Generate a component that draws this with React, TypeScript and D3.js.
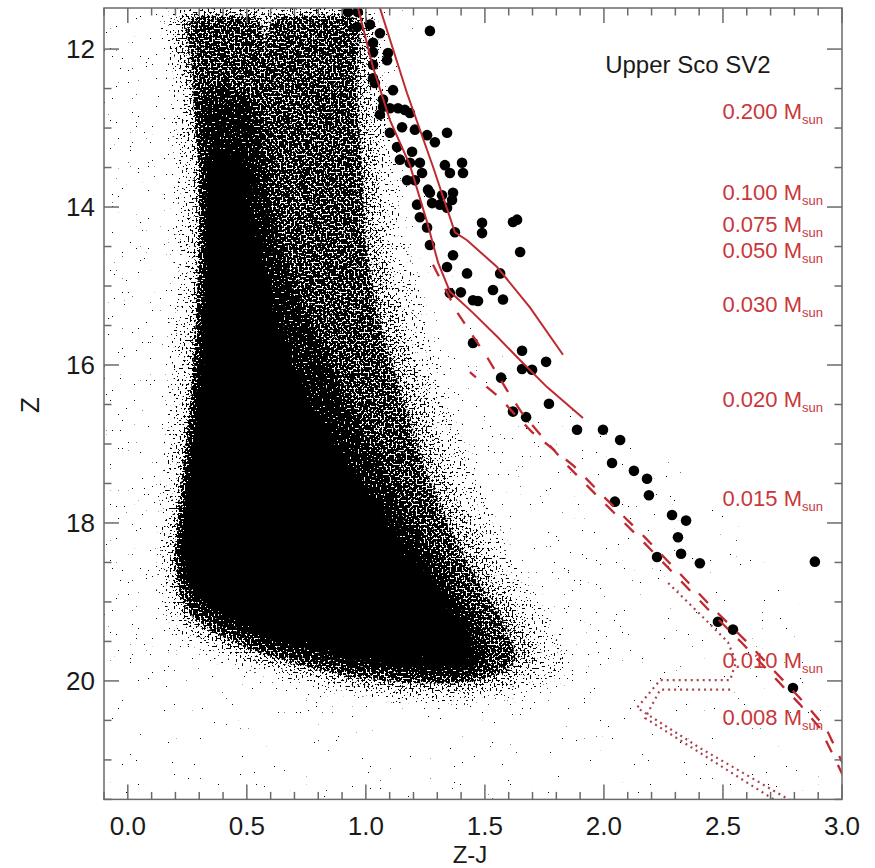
import React from "react";
import * as d3 from "d3";

// ---------- data ----------
const xMajorTicks = [0, 0.5, 1.0, 1.5, 2.0, 2.5, 3.0];
const xTickLabels = ["0.0", "0.5", "1.0", "1.5", "2.0", "2.5", "3.0"];
const yMajorTicks = [12, 14, 16, 18, 20];
const yTickLabels = ["12", "14", "16", "18", "20"];

// Upper Sco member candidates (Z-J, Z)
const memberZJ = [0.925,0.966,0.963,1.017,1.059,1.030,1.030,1.093,1.089,1.030,1.269,1.030,1.038,1.114,1.072,1.072,1.101,1.135,1.164,1.185,1.059,1.152,1.101,1.206,1.257,1.290,1.341,1.131,1.194,1.143,1.185,1.227,1.236,1.173,1.206,1.332,1.404,1.353,1.408,1.261,1.269,1.320,1.366,1.362,1.215,1.278,1.311,1.341,1.227,1.257,1.374,1.488,1.488,1.618,1.635,1.269,1.648,1.366,1.341,1.425,1.564,1.353,1.399,1.450,1.471,1.534,1.576,1.450,1.656,1.757,1.656,1.698,1.568,1.769,1.618,1.673,1.887,1.996,2.068,2.034,2.126,2.181,2.189,2.046,2.286,2.345,2.311,2.324,2.403,2.223,2.479,2.542,2.794,2.886];
const memberZ = [11.53,11.53,11.72,11.69,11.80,11.92,12.04,12.05,12.14,12.20,11.77,12.37,12.43,12.52,12.64,12.73,12.75,12.75,12.77,12.81,12.83,12.99,13.06,13.02,13.09,13.18,13.06,13.24,13.30,13.40,13.44,13.44,13.57,13.66,13.66,13.47,13.44,13.57,13.57,13.78,13.82,13.85,13.82,13.91,13.97,13.95,13.97,14.01,14.13,14.26,14.32,14.20,14.33,14.19,14.16,14.48,14.57,14.61,14.76,14.84,14.84,15.09,15.08,15.18,15.19,15.05,15.17,15.72,15.82,15.96,16.05,16.06,16.16,16.49,16.59,16.66,16.82,16.82,16.95,17.24,17.34,17.44,17.65,17.73,17.90,17.97,18.18,18.39,18.51,18.43,19.25,19.35,20.09,18.49];

// Isochrones (Z-J, Z)
const solidIsoA: [number, number][] = [[0.967,11.48],[1.030,12.23],[1.101,12.90],[1.185,13.47],[1.257,14.19],[1.303,14.70],[1.353,15.07],[1.450,15.34],[1.551,15.64],[1.648,15.94],[1.761,16.28],[1.912,16.67]];
const solidIsoB: [number, number][] = [[1.059,11.48],[1.173,12.56],[1.282,13.49],[1.374,14.32],[1.425,14.42],[1.551,14.76],[1.689,15.27],[1.828,15.87]];
const dashedIsoA: [number, number][] = [[1.282,14.73],[1.383,15.33],[1.509,15.90],[1.593,16.32],[1.656,16.61],[1.752,16.95],[1.849,17.28],[1.992,17.72],[2.143,18.17],[2.290,18.63],[2.433,19.08],[2.580,19.52],[2.727,19.99],[2.824,20.30],[2.908,20.60],[3.003,21.19]];
const dashedIsoB: [number, number][] = [[1.437,16.09],[1.509,16.28],[1.564,16.42],[1.618,16.60],[1.698,16.85],[1.874,17.28],[2.017,17.72],[2.168,18.17],[2.315,18.63],[2.458,19.08],[2.605,19.52],[2.752,19.99],[2.849,20.30],[2.933,20.60],[3.012,21.10]];
const dottedIsoA: [number, number][] = [[2.270,18.76],[2.395,19.13],[2.521,19.51],[2.555,19.76],[2.530,19.99],[2.236,19.99],[2.139,20.34],[2.404,20.85],[2.782,21.51]];
const dottedIsoB: [number, number][] = [[2.530,20.11],[2.236,20.11],[2.173,20.47],[2.718,21.51]];

// Mass labels and the Z at which they sit
const massNames = ["0.200", "0.100", "0.075", "0.050", "0.030", "0.020", "0.015", "0.010", "0.008"];
const massZ = [12.885, 13.91, 14.32, 14.64, 15.33, 16.53, 17.78, 19.84, 20.56];

// Field-star density regions (Z-J, Z), outer to inner, with relative density
const fieldLevels = [0.035, 0.09, 0.22, 0.42, 0.56, 0.76, 1.0];
const fieldContours: [number, number][][] = [
  [[-0.1,11.5],[1.15,11.5],[1.25,13.5],[1.45,15.5],[1.8,16.5],[2.3,17.3],[2.7,18.5],[2.9,20],[2.9,21.5],[-0.1,21.5]],
  [[-0.1,11.6],[1.08,11.5],[1.15,13],[1.25,14.5],[1.42,16],[1.68,17.3],[1.95,18.5],[2.1,19.5],[1.95,20.35],[1.4,20.5],[0.8,20.35],[0.3,19.95],[-0.1,19.7]],
  [[0.17,11.5],[1.04,11.5],[1.08,12.5],[1.12,13.5],[1.18,14.5],[1.26,15.5],[1.36,16.5],[1.47,17.5],[1.63,18.5],[1.78,19.3],[1.86,19.9],[1.6,20.2],[1.2,20.25],[0.8,20.05],[0.45,19.75],[0.2,19.4],[0.13,18.8],[0.15,17.5],[0.18,16],[0.2,14],[0.19,12.5]],
  [[0.22,11.5],[1.0,11.5],[1.02,12.5],[1.05,13.5],[1.08,14.5],[1.15,15.5],[1.25,16.5],[1.36,17.5],[1.52,18.5],[1.65,19.2],[1.72,19.8],[1.5,20.08],[1.1,20.1],[0.75,19.9],[0.45,19.6],[0.25,19.25],[0.19,18.75],[0.21,17.5],[0.25,16.5],[0.27,15],[0.28,13.5],[0.25,12.5]],
  [[0.27,11.45],[0.53,11.45],[0.57,12.2],[0.64,11.45],[0.94,11.45],[0.96,12.5],[0.98,13.5],[1.0,14.5],[1.06,15.5],[1.16,16.5],[1.27,17.5],[1.42,18.5],[1.58,19.3],[1.62,19.8],[1.4,20.0],[1.05,20.0],[0.7,19.8],[0.42,19.5],[0.24,19.1],[0.2,18.6],[0.23,17.5],[0.27,16.3],[0.3,15],[0.29,13.3],[0.27,12.3]],
  [[0.31,12.6],[0.5,12.6],[0.58,13.5],[0.64,14.5],[0.78,15.5],[0.93,16.5],[1.07,17.3],[1.2,18.0],[1.36,18.8],[1.5,19.5],[1.5,19.85],[1.2,19.9],[0.85,19.75],[0.55,19.5],[0.33,19.15],[0.22,18.65],[0.24,17.5],[0.28,16.3],[0.31,15],[0.32,13.5]],
  [[0.35,13.4],[0.47,13.4],[0.52,14.3],[0.6,15.3],[0.72,16.3],[0.9,17.2],[1.1,18.1],[1.28,18.8],[1.42,19.4],[1.43,19.72],[1.2,19.8],[0.9,19.66],[0.6,19.42],[0.4,19.12],[0.26,18.7],[0.26,17.6],[0.3,16.5],[0.33,15.3],[0.34,14.2]],
];

// ---------- layout ----------
const W = 875, H = 868;
const L = 104, R = 842, T = 8, B = 799.4;
const x = d3.scaleLinear().domain([-0.1, 3.0]).range([L, R]);
const y = d3.scaleLinear().domain([11.48, 21.5]).range([T, B]);

const RED_LINE = "#bf2a30";
const RED_TEXT = "#c9373b";
const AXIS = "#6a6a6a";
const FONT = "'Liberation Sans', Arial, Helvetica, sans-serif";
const DASH = 13, GAP = 14;

function pathLen(pts: [number, number][], upto: number) {
  let s = 0;
  for (let i = 1; i <= upto; i++) {
    s += Math.hypot(x(pts[i][0]) - x(pts[i - 1][0]), y(pts[i][1]) - y(pts[i - 1][1]));
  }
  return s;
}

export default function App() {
  const line = d3.line<[number, number]>().x(d => x(d[0])).y(d => y(d[1]));
  const closed = d3.line<[number, number]>().x(d => x(d[0])).y(d => y(d[1])).curve(d3.curveCatmullRomClosed.alpha(0.5));

  const xMinor = d3.range(-1, 31).map(i => i / 10).filter(v => Math.abs(v * 2 - Math.round(v * 2)) > 1e-6);
  const yMinor = d3.range(24, 44).map(i => i / 2).filter(v => v % 2 !== 0);

  const period = DASH + GAP;
  const offB = ((pathLen(dashedIsoA, 6) - pathLen(dashedIsoB, 5)) % period + period) % period;

  return (
    <svg width={W} height={H} style={{ position: "absolute", left: 0, top: 0, background: "#fff" }} fontFamily={FONT}>
      <defs>
        <clipPath id="plotClip">
          <rect x={L} y={T} width={R - L} height={B - T} />
        </clipPath>
        <filter id="stipple" filterUnits="userSpaceOnUse" x={L} y={T} width={R - L} height={B - T} colorInterpolationFilters="sRGB">
          <feColorMatrix in="SourceGraphic" type="luminanceToAlpha" result="lum" />
          <feGaussianBlur in="lum" stdDeviation="5 8" result="b" />
          <feTurbulence type="fractalNoise" baseFrequency="0.5" numOctaves="2" seed="7" result="n" />
          <feComposite in="b" in2="n" operator="arithmetic" k1="0" k2="0.689" k3="-1" k4="0.1845" result="d" />
          <feComponentTransfer in="d" result="t">
            <feFuncA type="linear" slope="40" intercept="0" />
          </feComponentTransfer>
          <feComponentTransfer in="b" result="mask">
            <feFuncA type="linear" slope="60" intercept="-0.3" />
          </feComponentTransfer>
          <feComposite in="t" in2="mask" operator="in" result="tm" />
          <feFlood floodColor="#000" result="f" />
          <feComposite in="f" in2="tm" operator="in" />
        </filter>
      </defs>

      {/* field stars */}
      <g clipPath="url(#plotClip)">
        <g filter="url(#stipple)">
          {fieldContours.map((c, i) => {
            const g = Math.round(fieldLevels[i] * 255);
            return <path key={i} d={closed(c) || ""} fill={`rgb(${g},${g},${g})`} />;
          })}
        </g>
      </g>

      {/* members */}
      <g clipPath="url(#plotClip)">
        {memberZJ.map((v, i) => (
          <circle key={i} cx={x(v)} cy={y(memberZ[i])} r={5.3} fill="#000" />
        ))}
      </g>

      {/* isochrones */}
      <g clipPath="url(#plotClip)" fill="none" stroke={RED_LINE}>
        <path d={line(solidIsoA) || ""} strokeWidth={2} />
        <path d={line(solidIsoB) || ""} strokeWidth={2} />
        <path d={line(dashedIsoA) || ""} strokeWidth={2.3} strokeDasharray={`${DASH} ${GAP}`} />
        <path d={line(dashedIsoB) || ""} strokeWidth={2.3} strokeDasharray={`${DASH} ${GAP}`} strokeDashoffset={-offB} />
        <path d={line(dottedIsoA) || ""} strokeWidth={2.2} strokeDasharray="2 4" stroke="#a8444b" />
        <path d={line(dottedIsoB) || ""} strokeWidth={2.2} strokeDasharray="2 4" stroke="#a8444b" />
      </g>

      {/* frame */}
      <rect x={L} y={T} width={R - L} height={B - T} fill="none" stroke={AXIS} strokeWidth={1.5} />
      <g stroke={AXIS} strokeWidth={1.5}>
        {xMajorTicks.map(v => (
          <g key={"xm" + v}>
            <line x1={x(v)} x2={x(v)} y1={B} y2={B - 15} />
            <line x1={x(v)} x2={x(v)} y1={T} y2={T + 15} />
          </g>
        ))}
        {xMinor.map(v => (
          <g key={"xn" + v}>
            <line x1={x(v)} x2={x(v)} y1={B} y2={B - 7.5} />
            <line x1={x(v)} x2={x(v)} y1={T} y2={T + 7.5} />
          </g>
        ))}
        {yMajorTicks.map(v => (
          <g key={"ym" + v}>
            <line x1={L} x2={L + 15} y1={y(v)} y2={y(v)} />
            <line x1={R} x2={R - 15} y1={y(v)} y2={y(v)} />
          </g>
        ))}
        {yMinor.map(v => (
          <g key={"yn" + v}>
            <line x1={L} x2={L + 7.5} y1={y(v)} y2={y(v)} />
            <line x1={R} x2={R - 7.5} y1={y(v)} y2={y(v)} />
          </g>
        ))}
      </g>

      {/* tick labels */}
      <g fill="#1a1a1a" fontSize={26}>
        {xMajorTicks.map((v, i) => (
          <text key={"xl" + v} x={x(v)} y={835} textAnchor="middle">{xTickLabels[i]}</text>
        ))}
        {yMajorTicks.map((v, i) => (
          <text key={"yl" + v} x={95} y={y(v)} dy="0.36em" textAnchor="end">{yTickLabels[i]}</text>
        ))}
      </g>

      {/* axis titles */}
      <text x={470} y={863} textAnchor="middle" fontSize={24} fill="#1a1a1a">Z-J</text>
      <text transform="translate(39,405) rotate(-90)" textAnchor="middle" fontSize={26} fill="#1a1a1a">Z</text>

      {/* annotations */}
      <text x={x(2.005)} y={y(12.3)} fontSize={24} fill="#1a1a1a">Upper Sco SV2</text>
      <g fill={RED_TEXT}>
        {massNames.map((m, i) => (
          <text key={m} x={x(2.92)} y={y(massZ[i])} textAnchor="end" fontSize={22}>
            {m + " M"}
            <tspan fontSize={13} dy={5}>sun</tspan>
          </text>
        ))}
      </g>
    </svg>
  );
}
